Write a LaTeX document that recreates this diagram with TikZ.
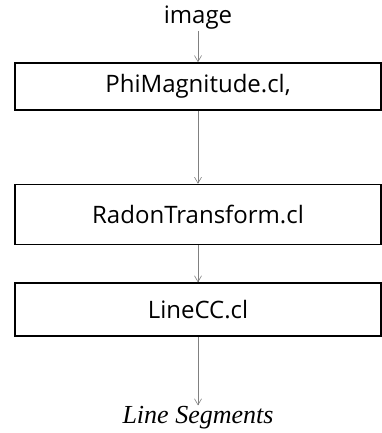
\documentclass[tikz,border=0pt]{standalone}
\usepackage{fontspec}
\setmainfont{Open Sans}
\newfontfamily\serifit{Liberation Serif}
\usetikzlibrary{arrows.meta,positioning}
\tikzset{
	stagebox/.style={rectangle,draw=black,line width=1.6pt,minimum width=366pt,inner sep=0pt,text centered,font=\fontsize{24}{28}\selectfont},
	link/.style={-{Straight Barb[length=6pt,width=7pt]},draw=gray,line width=0.6pt}
}

\begin{document}
\begin{tikzpicture}[x=1pt,y=1pt]
		\useasboundingbox (0,0) rectangle (382,-433);
		\node[font=\fontsize{24}{28}\selectfont,inner sep=1pt] (img) at (198,-18) {image};
		\node[stagebox,minimum height=47pt] (phi) at (198,-86.5) {PhiMagnitude.cl,};
		\node[stagebox,minimum height=60pt,below=73pt of phi] (radon) {RadonTransform.cl};
		\node[stagebox,minimum height=53pt,below=37pt of radon] (linecc) {LineCC.cl};
		\node[font=\serifit\itshape\fontsize{26}{30}\selectfont,inner sep=1pt] (seg) at (198,-418) {Line Segments};
		
		\draw[link] (img) -- (phi);
		\draw[link] (phi) -- (radon);
		\draw[link] (radon) -- (linecc);
		\draw[link] (linecc) -- (seg);
\end{tikzpicture}
\end{document}
